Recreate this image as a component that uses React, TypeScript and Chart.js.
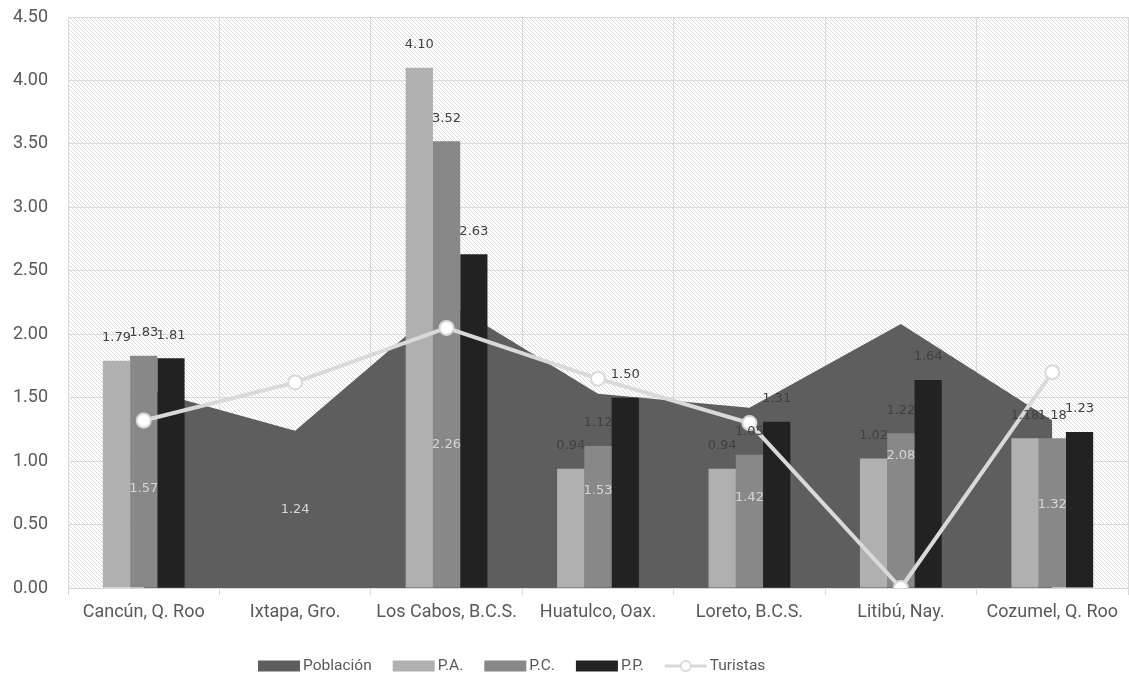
import React, { useEffect, useRef } from "react";
import { Chart, registerables } from "chart.js";

Chart.register(...registerables);

const categories = [
  "Cancún, Q. Roo",
  "Ixtapa, Gro.",
  "Los Cabos, B.C.S.",
  "Huatulco, Oax.",
  "Loreto, B.C.S.",
  "Litibú, Nay.",
  "Cozumel, Q. Roo",
];
const poblacion = [1.57, 1.24, 2.26, 1.53, 1.42, 2.08, 1.32];
const pa = [1.79, null, 4.1, 0.94, 0.94, 1.02, 1.18];
const pc = [1.83, null, 3.52, 1.12, 1.05, 1.22, 1.18];
const pp = [1.81, null, 2.63, 1.5, 1.31, 1.64, 1.23];
const turistas = [1.32, 1.62, 2.05, 1.65, 1.3, 0.0, 1.7];
const seriesNames = ["Población", "P.A.", "P.C.", "P.P.", "Turistas"];

const AXIS_FONT = "Roboto, 'Open Sans', sans-serif";
const LEGEND_FONT = "Roboto, Lato, sans-serif";
const LABEL_FONT = "'DejaVu Sans', Verdana, sans-serif";
const C_POB = "#5e5e5e";
const C_PA = "#b0b0b0";
const C_PC = "#888888";
const C_PP = "#222222";
const C_TUR = "#d9d9d9";

function makePattern(): CanvasPattern | string {
  const c = document.createElement("canvas");
  c.width = 4;
  c.height = 4;
  const g = c.getContext("2d");
  if (!g) return "#fff";
  g.fillStyle = "#ffffff";
  g.fillRect(0, 0, 4, 4);
  g.strokeStyle = "#dcdcdc";
  g.lineWidth = 1;
  g.beginPath();
  g.moveTo(-1, -1);
  g.lineTo(5, 5);
  g.moveTo(-1, 3);
  g.lineTo(1, 5);
  g.moveTo(3, -1);
  g.lineTo(5, 1);
  g.stroke();
  const p = g.createPattern(c, "repeat");
  return p || "#fff";
}

const hatchPlugin = {
  id: "hatchBg",
  beforeDraw(chart: any) {
    const { ctx, chartArea } = chart;
    ctx.save();
    ctx.fillStyle = makePattern();
    ctx.fillRect(chartArea.left, chartArea.top, chartArea.right - chartArea.left, chartArea.bottom - chartArea.top);
    ctx.restore();
  },
};

const labelPlugin = {
  id: "valueLabels",
  afterDatasetsDraw(chart: any) {
    const { ctx } = chart;
    const yScale = chart.scales.y;
    const base = yScale.getPixelForValue(0);
    ctx.save();
    ctx.font = `13px ${LABEL_FONT}`;
    ctx.textAlign = "center";
    ctx.textBaseline = "middle";
    const m0 = chart.getDatasetMeta(0);
    m0.data.forEach((pt: any, i: number) => {
      const v = poblacion[i];
      if (v == null) return;
      ctx.fillStyle = "#d6d6d6";
      ctx.fillText(v.toFixed(2), pt.x, (pt.y + base) / 2);
    });
    [1, 2, 3].forEach((di) => {
      const meta = chart.getDatasetMeta(di);
      const vals = chart.data.datasets[di].data;
      meta.data.forEach((bar: any, i: number) => {
        const v = vals[i];
        if (v == null) return;
        ctx.fillStyle = "#404040";
        ctx.fillText((v as number).toFixed(2), bar.x, bar.y - 23);
      });
    });
    ctx.restore();
  },
};

const legendPlugin = {
  id: "customLegend",
  afterDraw(chart: any) {
    const { ctx } = chart;
    const y = 666;
    let x = 258;
    const boxW = 42;
    const boxH = 11;
    const colors = [C_POB, C_PA, C_PC, C_PP, C_TUR];
    ctx.save();
    ctx.font = `15.5px ${LEGEND_FONT}`;
    ctx.textBaseline = "middle";
    ctx.textAlign = "left";
    seriesNames.forEach((name, i) => {
      if (i < 4) {
        ctx.fillStyle = colors[i];
        ctx.fillRect(x, y - boxH / 2, boxW, boxH);
      } else {
        ctx.strokeStyle = C_TUR;
        ctx.lineWidth = 3;
        ctx.beginPath();
        ctx.moveTo(x, y);
        ctx.lineTo(x + boxW, y);
        ctx.stroke();
        ctx.beginPath();
        ctx.arc(x + boxW / 2, y, 5, 0, Math.PI * 2);
        ctx.fillStyle = "#ffffff";
        ctx.fill();
        ctx.lineWidth = 2;
        ctx.stroke();
      }
      x += boxW + 3;
      ctx.fillStyle = "#595959";
      ctx.fillText(name, x, y);
      x += ctx.measureText(name).width + 21;
    });
    ctx.restore();
  },
};

export default function App() {
  const ref = useRef<HTMLCanvasElement | null>(null);
  useEffect(() => {
    if (!ref.current) return;
    const chart = new Chart(ref.current, {
      type: "bar",
      data: {
        labels: categories,
        datasets: [
          {
            type: "line",
            label: seriesNames[0],
            data: poblacion,
            backgroundColor: C_POB,
            borderColor: C_POB,
            borderWidth: 0,
            pointRadius: 0,
            fill: "origin",
            tension: 0,
            order: 3,
          } as any,
          { label: seriesNames[1], data: pa, backgroundColor: C_PA, order: 2 },
          { label: seriesNames[2], data: pc, backgroundColor: C_PC, order: 2 },
          { label: seriesNames[3], data: pp, backgroundColor: C_PP, order: 2 },
          {
            type: "line",
            label: seriesNames[4],
            data: turistas,
            borderColor: C_TUR,
            borderWidth: 4,
            pointRadius: 7,
            pointBackgroundColor: "#ffffff",
            pointBorderColor: C_TUR,
            pointBorderWidth: 2,
            fill: false,
            tension: 0,
            order: 0,
          } as any,
        ],
      },
      options: {
        responsive: false,
        animation: false,
        categoryPercentage: 0.54,
        barPercentage: 1,
        layout: { padding: { top: 17, right: 1, left: 0, bottom: 0 } },
        plugins: {
          legend: { display: false },
          tooltip: { enabled: false },
        },
        scales: {
          x: {
            offset: true,
            grid: {
              offset: true,
              color: "#d9d9d9",
              lineWidth: 1,
              drawTicks: true,
              tickLength: 7,
            },
            border: { color: "#d9d9d9" },
            ticks: {
              color: "#595959",
              font: { family: AXIS_FONT, size: 18 },
              padding: 7,
              maxRotation: 0,
              autoSkip: false,
            },
            afterFit(scale: any) {
              scale.height = 91;
              scale.paddingLeft = 0;
              scale.paddingRight = 0;
            },
          },
          y: {
            min: 0,
            max: 4.5,
            grid: { color: "#d9d9d9", lineWidth: 1, drawTicks: false },
            border: { display: false },
            ticks: {
              stepSize: 0.5,
              color: "#595959",
              font: { family: AXIS_FONT, size: 18 },
              padding: 20,
              callback: (v: any) => Number(v).toFixed(2),
            },
            afterFit(scale: any) {
              scale.width = 68;
              scale.paddingTop = 0;
              scale.paddingBottom = 0;
            },
          },
        },
      },
      plugins: [hatchPlugin, labelPlugin, legendPlugin],
    });
    return () => chart.destroy();
  }, []);
  return (
    <div
      style={{
        position: "fixed",
        left: 0,
        top: 0,
        width: 1129,
        height: 679,
        overflow: "hidden",
        background: "#fff",
      }}
    >
      <canvas ref={ref} width={1137} height={679} style={{ display: "block" }} />
    </div>
  );
}
